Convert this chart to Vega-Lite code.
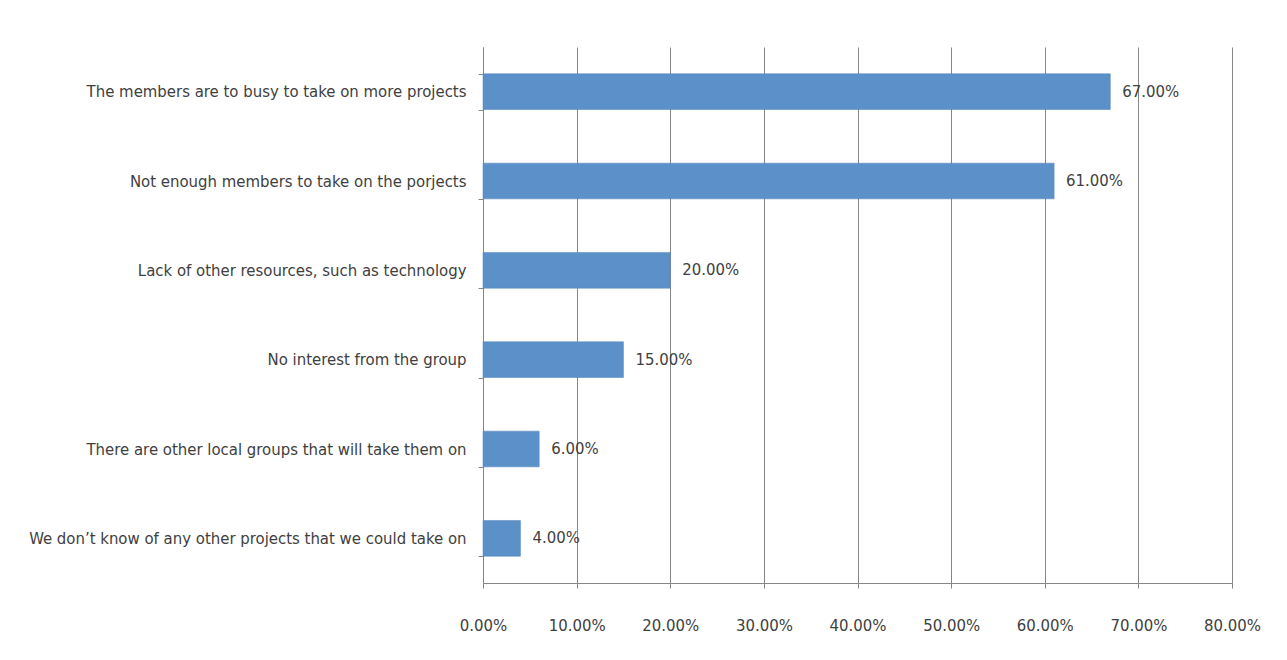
{
  "$schema": "https://vega.github.io/schema/vega-lite/v6.json",
  "autosize": "none",
  "width": 749,
  "height": 536,
  "padding": {"left": 483, "top": 47, "right": 55, "bottom": 77},
  "background": "white",
  "config": {
    "view": {"stroke": null},
    "font": "DejaVu Sans Condensed, sans-serif",
    "axis": {
      "labelFont": "DejaVu Sans Condensed, sans-serif",
      "labelColor": "#404040",
      "labelFontSize": 16.6,
      "domainColor": "#868686",
      "tickColor": "#868686",
      "gridColor": "#868686",
      "title": null
    }
  },
  "data": {
    "values": [
      {"reason": "The members are to busy to take on more projects", "pct": 0.67},
      {"reason": "Not enough members to take on the porjects", "pct": 0.61},
      {"reason": "Lack of other resources, such as technology", "pct": 0.20},
      {"reason": "No interest from the group", "pct": 0.15},
      {"reason": "There are other local groups that will take them on", "pct": 0.06},
      {"reason": "We don\u2019t know of any other projects that we could take on", "pct": 0.04}
    ]
  },
  "encoding": {
    "y": {
      "field": "reason",
      "type": "nominal",
      "sort": null,
      "scale": {"paddingInner": 0.6, "paddingOuter": 0.3},
      "axis": {
        "tickBand": "extent",
        "tickSize": 5,
        "labelPadding": 12,
        "labelLimit": 480,
        "domainWidth": 1
      }
    },
    "x": {
      "field": "pct",
      "type": "quantitative",
      "scale": {"domain": [0, 0.8], "nice": false},
      "axis": {
        "values": [0, 0.1, 0.2, 0.3, 0.4, 0.5, 0.6, 0.7, 0.8],
        "format": ".2%",
        "grid": true,
        "tickSize": 5,
        "labelPadding": 29,
        "labelFlush": false
      }
    }
  },
  "layer": [
    {"mark": {"type": "bar", "color": "#5b90c8", "stroke": "#4f81bd", "strokeWidth": 0.5}},
    {
      "mark": {"type": "text", "align": "left", "baseline": "middle", "dx": 12, "fontSize": 16.6, "color": "#404040", "font": "DejaVu Sans Condensed, sans-serif"},
      "encoding": {"text": {"field": "pct", "type": "quantitative", "format": ".2%"}}
    }
  ]
}
